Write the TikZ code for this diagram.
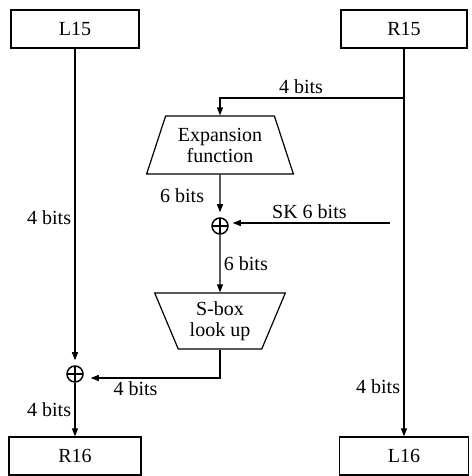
\documentclass[tikz,border=0pt]{standalone}
\usepackage{fontspec}
\setmainfont{Liberation Serif}
\usepackage{tikz}
\usetikzlibrary{shapes.geometric, arrows.meta, positioning, calc}

\tikzstyle{block} = [rectangle, minimum width=128pt, minimum height=38pt, text centered, draw=black, line width=1.2pt]
\tikzstyle{expander} = [trapezium, trapezium left angle=67.5, trapezium right angle=67.5, trapezium stretches=true, minimum width=147pt, minimum height=58pt, align=center, draw=black, line width=1.2pt, inner sep=1pt]
\tikzstyle{lookup} = [trapezium, trapezium left angle=113.2, trapezium right angle=113.2, trapezium stretches=true, minimum width=131pt, minimum height=56pt, align=center, draw=black, line width=1.2pt, inner sep=1pt]
\tikzstyle{xor} = [circle, minimum size=16pt, inner sep=0pt, draw=black, line width=1.5pt, path picture={\draw[line width=1.5pt] (path picture bounding box.north) -- (path picture bounding box.south) (path picture bounding box.west) -- (path picture bounding box.east);}]
\tikzstyle{arrow} = [line width=1.2pt, -{Triangle[length=8pt,width=6pt]}]

\begin{document}
\begin{tikzpicture}[x=1pt, y=1pt, font=\fontsize{20}{21}\selectfont]
\useasboundingbox (0,0) rectangle (471,476);
\node (L15) [block] at (75,447) {L15};
\node (R15) [block, minimum width=126pt] at (404,447) {R15};
\node (expand) [expander] at (220,331) {Expansion\\function};
\node (xor2) [xor] at (220,250) {};
\node (sbox) [lookup] at (220,155) {S-box\\look up};
\node (xor1) [xor] at (75,102) {};
\node (R16) [block, minimum width=132pt] at (75,20) {R16};
\node (L16) [block, minimum width=129pt] at (404,20) {L16};
\coordinate (split) at (404,378);
\coordinate (skin) at (390,253);

\draw [arrow, shorten >=5pt] (L15) -- node[left, pos=0.535] {4 bits} (xor1);
\draw [arrow] (R15) -- node[left, pos=0.873] {4 bits} (L16);
\draw [arrow] (split) -| node[above, pos=0.28] {4 bits} (expand.north);
\draw [arrow, shorten >=5pt] (expand.south) -- node[left, xshift=-12pt] {6 bits} (xor2);
\draw [arrow, shorten >=4pt] (skin) -- node[above] {SK 6 bits} ([yshift=3pt]xor2.east);
\draw [arrow] (xor2) -- node[right] {6 bits} (sbox.north);
\draw [arrow, shorten >=7pt] (sbox.south) |- node[below, pos=0.81] {4 bits} ([yshift=-4pt]xor1.east);
\draw [arrow] (xor1) -- node[left] {4 bits} (R16);
\end{tikzpicture}
\end{document}
